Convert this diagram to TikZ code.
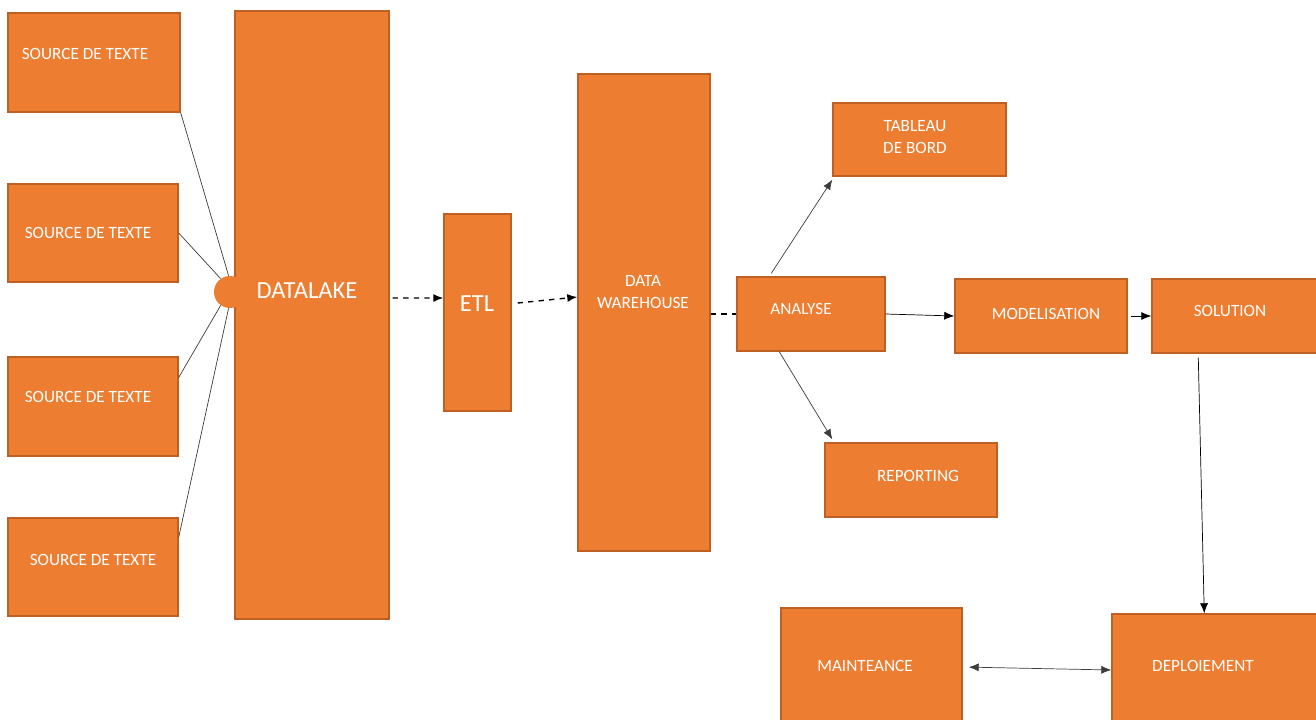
\documentclass[tikz,border=0pt]{standalone}
\usepackage{fontspec}
\setmainfont{Carlito}
\usetikzlibrary{fit,arrows.meta}

\definecolor{boxfill}{RGB}{237,125,49}
\definecolor{boxline}{RGB}{190,95,35}
\definecolor{wire}{RGB}{60,60,60}

\tikzset{
  blk/.style={draw=boxline, fill=boxfill, line width=0.8pt, inner sep=0pt},
  lbl/.style={text=white, font=\fontsize{9.8}{12}\selectfont, align=center, inner sep=0pt},
  biglbl/.style={text=white, font=\fontsize{14}{16}\selectfont, inner sep=0pt},
  >={Latex[length=0.2cm,width=0.16cm]}
}

\begin{document}
\begin{tikzpicture}[x=0.02cm, y=-0.02cm]
\useasboundingbox (0,0) rectangle (1316,720);

\node [blk, fit={(8,13) (180,112)}] (src1) {}; \node [lbl] at (85,54) {SOURCE DE TEXTE};
\node [blk, fit={(8,184) (178,282)}] (src2) {}; \node [lbl] at (88,233) {SOURCE DE TEXTE};
\node [blk, fit={(8,357) (178,456)}] (src3) {}; \node [lbl] at (88,397) {SOURCE DE TEXTE};
\node [blk, fit={(8,518) (178,616)}] (src4) {}; \node [lbl] at (93,560) {SOURCE DE TEXTE};

\node [blk, fit={(235,11) (389,619)}] (lake) {};
\node [circle, fill=boxfill, inner sep=0pt, minimum size=0.64cm] (hub) at (230,292) {};
\node [biglbl] at (307,291) {DATALAKE};

\draw [wire, thin] (src1.south east) -- (hub.95);
\draw [wire, thin] (src2.east) -- (hub.125);
\draw [wire, thin] ([yshift=0.58cm]src3.east) -- (hub.235);
\draw [wire, thin] ([yshift=-0.4cm]src4.north east) -- (hub.265);

\node [blk, fit={(444,214) (511,411)}] (etl) {}; \node [biglbl] at (477,304) {ETL};
\node [blk, fit={(578,74) (710,551)}] (wh) {}; \node [lbl] at (643,292) {DATA\\WAREHOUSE};

\draw [->, dashed, thick] ([xshift=0.06cm,yshift=0.34cm]lake.east) -- ([yshift=0.29cm]etl.west);
\draw [->, dashed, thick] ([xshift=0.12cm,yshift=0.19cm]etl.east) -- ([yshift=0.31cm]wh.west);

\node [blk, fit={(737,277) (885,351)}] (ana) {}; \node [lbl] at (801,309) {ANALYSE};
\draw [dashed, thick] (wh.east |- ana.west) -- (ana.west);

\node [blk, fit={(833,103) (1006,176)}] (tab) {}; \node [lbl] at (915,137) {TABLEAU\\DE BORD};
\node [blk, fit={(825,443) (997,517)}] (rep) {}; \node [lbl] at (918,476) {REPORTING};
\node [blk, fit={(955,279) (1127,353)}] (mod) {}; \node [lbl] at (1046,314) {MODELISATION};
\node [blk, fit={(1152,279) (1322,353)}] (sol) {}; \node [lbl] at (1230,311) {SOLUTION};
\node [blk, fit={(1112,614) (1322,726)}] (dep) {}; \node [lbl] at (1203,666) {DEPLOIEMENT};
\node [blk, fit={(781,608) (962,726)}] (maint) {}; \node [lbl] at (865,666) {MAINTEANCE};

\draw [->, wire] ([xshift=0.7cm,yshift=0.06cm]ana.north west) -- ([yshift=-0.06cm]tab.south west);
\draw [->, wire] ([xshift=0.86cm]ana.south west) -- ([xshift=0.16cm,yshift=0.06cm]rep.north west);
\draw [->, black] (ana.east) -- (mod.west);
\draw [->, black] ([xshift=0.06cm]mod.east) -- (sol.west);
\draw [->, black] ([xshift=0.94cm,yshift=-0.08cm]sol.south west) -- ([xshift=1.86cm]dep.north west);
\draw [<->, wire, shorten <=0.12cm] (maint.east) -- (dep.west);

\end{tikzpicture}
\end{document}
